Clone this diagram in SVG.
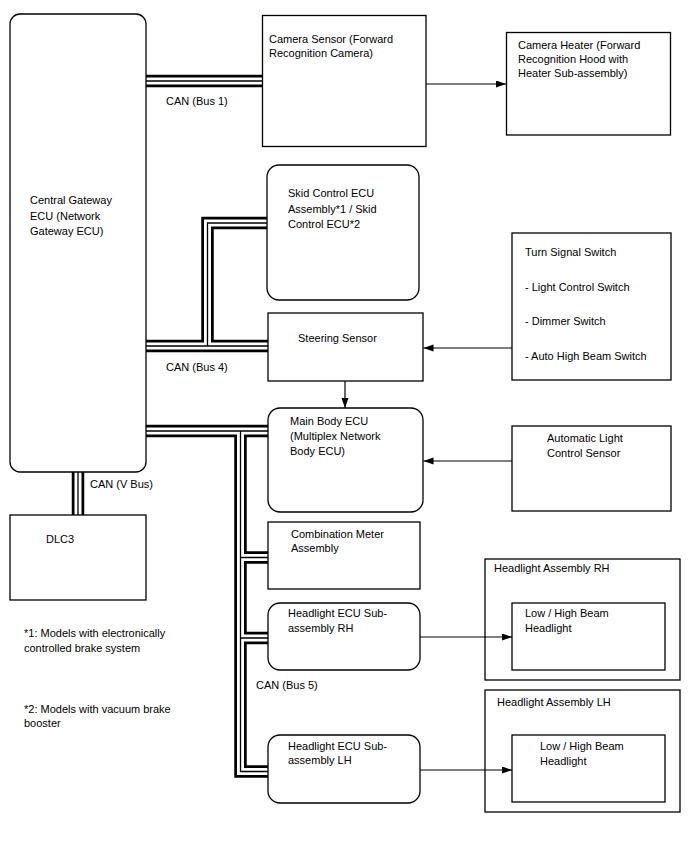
<svg xmlns="http://www.w3.org/2000/svg" width="688" height="852" viewBox="0 0 688 852">
<defs>
<style>
.box{fill:#fff;stroke:#000;stroke-width:1.3}
.frame{fill:none;stroke:#000;stroke-width:1.3}
text{font-family:"Liberation Sans",Arial,sans-serif;font-size:11px;fill:#000}
.bo{fill:none;stroke:#000;stroke-width:12.5;stroke-linejoin:miter}
.bw{fill:none;stroke:#fff;stroke-width:7;stroke-linejoin:miter}
.bi{fill:none;stroke:#000;stroke-width:1.3;stroke-linejoin:miter}
.arr{fill:none;stroke:#000;stroke-width:1.2;marker-end:url(#ah)}
</style>
<marker id="ah" markerUnits="userSpaceOnUse" markerWidth="11" markerHeight="8" refX="10" refY="3.5" orient="auto">
<path d="M0,0 L10,3.5 L0,7 z" fill="#000"/>
</marker>
<path id="bus1" d="M146,81 H262"/>
<path id="bus4" d="M146,346 H268 M207.5,346 V223 H267"/>
<path id="bus5" d="M146,431 H268 M240.5,431 V771.5 H268 M240.5,557.5 H268 M240.5,638 H268"/>
<path id="busv" d="M78,472 V515"/>
</defs>
<rect width="688" height="852" fill="#fff"/>

<g id="headlight-assembly-rh">
<rect class="frame" x="485" y="559" width="195" height="121"/>
<text x="494" y="572">Headlight Assembly RH</text>
</g>

<g id="headlight-assembly-lh">
<rect class="frame" x="485" y="690" width="195" height="122"/>
<text x="497" y="706">Headlight Assembly LH</text>
</g>

<g id="connectors">
<use href="#bus1" class="bo"/><use href="#bus4" class="bo"/><use href="#bus5" class="bo"/><use href="#busv" class="bo"/>
<use href="#bus1" class="bw"/><use href="#bus4" class="bw"/><use href="#bus5" class="bw"/><use href="#busv" class="bw"/>
<use href="#bus1" class="bi"/><use href="#bus4" class="bi"/><use href="#bus5" class="bi"/><use href="#busv" class="bi"/>
<path class="arr" d="M426,84 H506"/>
<path class="arr" d="M512,348 H423.5"/>
<path class="arr" d="M345,381 V408"/>
<path class="arr" d="M512,461 H423.5"/>
<path class="arr" d="M420,637 H512"/>
<path class="arr" d="M420,770 H512"/>
<text x="166" y="105">CAN (Bus 1)</text>
<text x="166" y="371">CAN (Bus 4)</text>
<text x="90" y="488">CAN (V Bus)</text>
<text x="256" y="689">CAN (Bus 5)</text>
</g>

<g id="gateway">
<rect class="box" x="10" y="14" width="136" height="458" rx="10"/>
<text x="30" y="204">Central Gateway</text>
<text x="30" y="219.5">ECU (Network</text>
<text x="30" y="235">Gateway ECU)</text>
</g>

<g id="camera-sensor">
<rect class="box" x="262.5" y="15.5" width="163.5" height="131"/>
<text x="269" y="43">Camera Sensor (Forward</text>
<text x="269" y="57">Recognition Camera)</text>
</g>

<g id="camera-heater">
<rect class="box" x="506.5" y="32.5" width="164" height="102.5"/>
<text x="518" y="49">Camera Heater (Forward</text>
<text x="518" y="63">Recognition Hood with</text>
<text x="518" y="77">Heater Sub-assembly)</text>
</g>

<g id="skid-control">
<rect class="box" x="267" y="165" width="152" height="135" rx="12"/>
<text x="288" y="197">Skid Control ECU</text>
<text x="288" y="212.5">Assembly*1 / Skid</text>
<text x="288" y="228">Control ECU*2</text>
</g>

<g id="steering-sensor">
<rect class="box" x="268" y="313" width="155" height="68"/>
<text x="298" y="342">Steering Sensor</text>
</g>

<g id="turn-signal-switch">
<rect class="box" x="512" y="233" width="159" height="147"/>
<text x="525" y="256">Turn Signal Switch</text>
<text x="525" y="291">- Light Control Switch</text>
<text x="525" y="325">- Dimmer Switch</text>
<text x="525" y="360">- Auto High Beam Switch</text>
</g>

<g id="main-body-ecu">
<rect class="box" x="268" y="408" width="155" height="104" rx="12"/>
<text x="290" y="425">Main Body ECU</text>
<text x="290" y="440">(Multiplex Network</text>
<text x="290" y="455">Body ECU)</text>
</g>

<g id="auto-light-sensor">
<rect class="box" x="512" y="426" width="159" height="85"/>
<text x="547" y="442">Automatic Light</text>
<text x="547" y="457">Control Sensor</text>
</g>

<g id="dlc3">
<rect class="box" x="10" y="515" width="136" height="85"/>
<text x="46" y="543">DLC3</text>
</g>

<g id="combination-meter">
<rect class="box" x="268" y="522" width="152" height="67"/>
<text x="291" y="538">Combination Meter</text>
<text x="291" y="552">Assembly</text>
</g>

<g id="headlight-ecu-rh">
<rect class="box" x="268" y="603" width="152" height="67" rx="12"/>
<text x="288" y="617">Headlight ECU Sub-</text>
<text x="288" y="632">assembly RH</text>
</g>

<g id="low-high-beam-rh">
<rect class="box" x="512" y="603" width="153" height="67"/>
<text x="525" y="617">Low / High Beam</text>
<text x="525" y="632">Headlight</text>
</g>

<g id="headlight-ecu-lh">
<rect class="box" x="268" y="735" width="152" height="68" rx="12"/>
<text x="288" y="750">Headlight ECU Sub-</text>
<text x="288" y="764">assembly LH</text>
</g>

<g id="low-high-beam-lh">
<rect class="box" x="512" y="735" width="153" height="67"/>
<text x="540" y="750">Low / High Beam</text>
<text x="540" y="765">Headlight</text>
</g>

<g id="footnotes">
<text x="24" y="637">*1: Models with electronically</text>
<text x="24" y="652">controlled brake system</text>
<text x="24" y="713">*2: Models with vacuum brake</text>
<text x="24" y="727">booster</text>
</g>
</svg>
